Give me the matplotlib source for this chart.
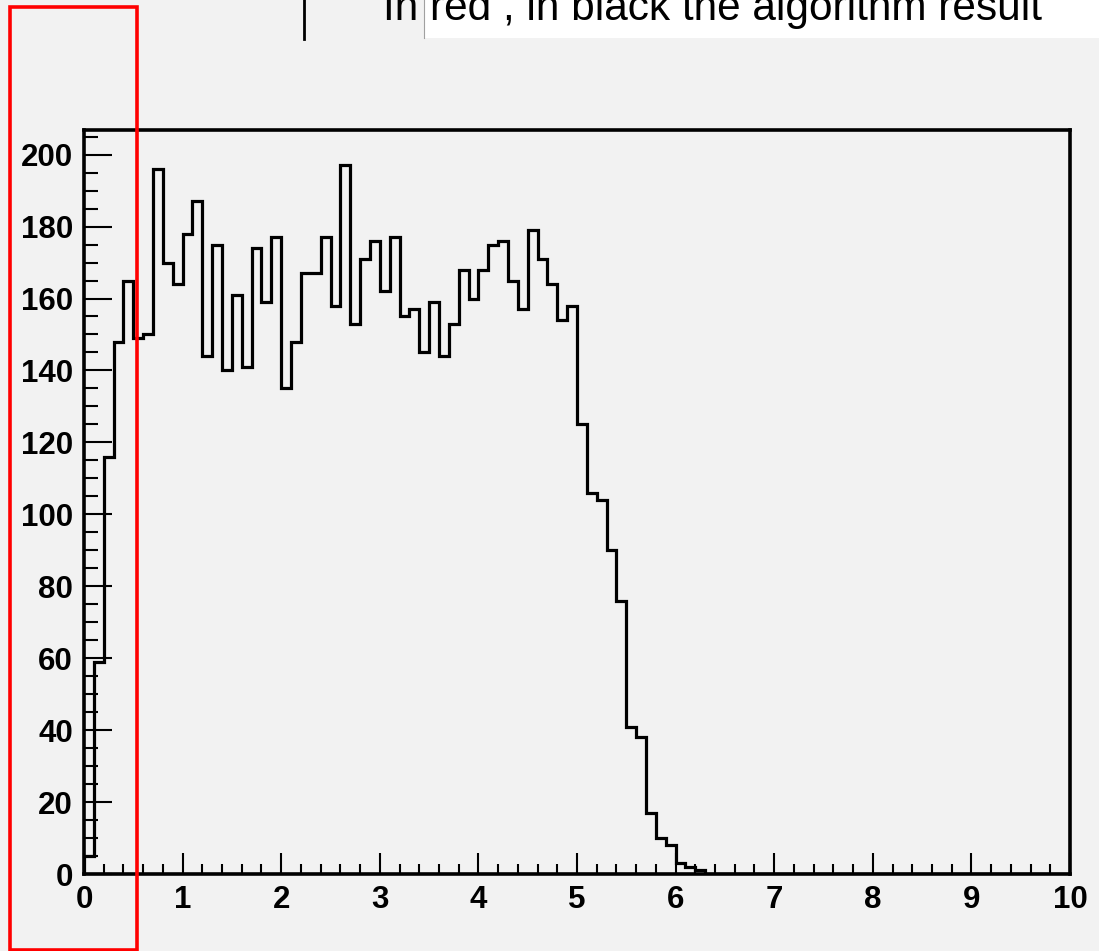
import numpy as np
import matplotlib
matplotlib.use("Agg")
import matplotlib.pyplot as plt
from matplotlib.patches import Rectangle
from matplotlib.lines import Line2D
from matplotlib.ticker import MultipleLocator

# Histogram: 100 bins from 0 to 10
x_min, x_max, n_bins = 0.0, 10.0, 100
counts = [5, 59, 116, 148, 165, 149, 150, 196, 170, 164,
          178, 187, 144, 175, 140, 161, 141, 174, 159, 177,
          135, 148, 167, 167, 177, 158, 197, 153, 171, 176,
          162, 177, 155, 157, 145, 159, 144, 153, 168, 160,
          168, 175, 176, 165, 157, 179, 171, 164, 154, 158,
          125, 106, 104, 90, 76, 41, 38, 17, 10, 8,
          3, 2, 1] + [0] * 37
x_ticks = [0, 1, 2, 3, 4, 5, 6, 7, 8, 9, 10]
y_ticks = [0, 20, 40, 60, 80, 100, 120, 140, 160, 180, 200]
caption = "In red , in black the algorithm result"

W, H = 1099, 951
BG = "#f2f2f2"
fig = plt.figure(figsize=(W / 100, H / 100), dpi=100, facecolor=BG)

def fx(px):
    return px / W

def fy(py):
    return (H - py) / H

ax = fig.add_axes([fx(84), fy(874), fx(1070) - fx(84), fy(130) - fy(874)])
ax.set_facecolor(BG)

edges = np.linspace(x_min, x_max, n_bins + 1)
ax.stairs(counts, edges, color="black", linewidth=2.3)

ax.set_xlim(x_min, x_max)
ax.set_ylim(0, 1.05 * max(counts))

ax.set_xticks(x_ticks)
ax.set_yticks(y_ticks)
ax.set_xticklabels([str(t) for t in x_ticks])
ax.set_yticklabels([str(t) for t in y_ticks])
ax.xaxis.set_minor_locator(MultipleLocator(0.2))
ax.yaxis.set_minor_locator(MultipleLocator(5))

for sp in ax.spines.values():
    sp.set_linewidth(2.6)
    sp.set_color("black")

ax.tick_params(axis="x", which="major", direction="in", length=15, width=1.5, pad=8)
ax.tick_params(axis="x", which="minor", direction="in", length=7.5, width=1.5)
ax.tick_params(axis="y", which="major", direction="in", length=20, width=1.5, pad=8)
ax.tick_params(axis="y", which="minor", direction="in", length=10, width=1.5)
for lab in ax.get_xticklabels() + ax.get_yticklabels():
    lab.set_fontfamily("Liberation Sans")
    lab.set_fontweight("bold")
    lab.set_fontsize(22.5)

# Top strip: white box, separator line, black bar, caption
fig.patches.append(Rectangle((fx(424), fy(38)), fx(1099) - fx(424), fy(0) - fy(38),
                             transform=fig.transFigure, facecolor="white",
                             edgecolor="none", zorder=0))
fig.lines.append(Line2D([fx(424), fx(424)], [fy(38), fy(0)], transform=fig.transFigure,
                        color="#a0a0a0", linewidth=0.8))
fig.lines.append(Line2D([fx(304), fx(304)], [fy(39), fy(0)], transform=fig.transFigure,
                        color="black", linewidth=2.0))
fig.text(fx(383), fy(20), caption, ha="left", va="baseline",
         fontfamily="Liberation Sans", fontsize=30.5, color="black")

# Red highlight rectangle
fig.patches.append(Rectangle((fx(9.5), fy(950)), fx(136.5) - fx(9.5), fy(7) - fy(950),
                             transform=fig.transFigure, facecolor="none",
                             edgecolor="red", linewidth=2.6, zorder=10))

fig.savefig("out.png", dpi=100, facecolor=BG)
